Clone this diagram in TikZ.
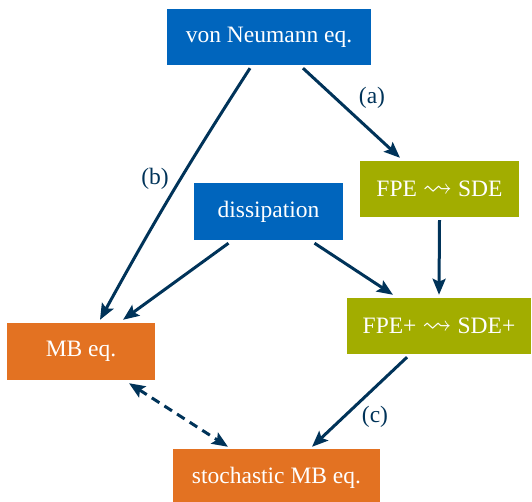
\documentclass[tikz,border=0pt]{standalone}
\usepackage{amssymb}
\usepackage{graphicx}
\usepackage{fontspec}
\setmainfont{Liberation Serif}
\usetikzlibrary{arrows.meta}
\definecolor{tumblue}{HTML}{0065BD}
\definecolor{tumgreen}{HTML}{A2AD00}
\definecolor{tumorange}{HTML}{E37222}
\definecolor{tumdark}{HTML}{003359}
\newcommand{\squig}{\raisebox{0.5pt}{\scalebox{1.25}{$\rightsquigarrow$}}}
\tikzset{
  box/.style={rectangle, inner sep=0pt, text=white, font=\fontsize{23.5}{28}\selectfont, minimum height=56pt},
  bluebox/.style={box, fill=tumblue},
  greenbox/.style={box, fill=tumgreen},
  orangebox/.style={box, fill=tumorange},
  conn/.style={draw=tumdark, line width=3pt, -{Stealth[length=16pt,width=13pt,inset=3pt]}},
  dconn/.style={conn, {Stealth[length=16pt,width=13pt,inset=3pt]}-{Stealth[length=16pt,width=13pt,inset=3pt]}, dash pattern=on 9pt off 6pt},
  lbl/.style={text=tumdark, inner sep=0pt, font=\fontsize{23.5}{28}\selectfont}
}
\begin{document}
\begin{tikzpicture}[x=1pt,y=-1pt]
\useasboundingbox (0,0) rectangle (532,502);
\node[bluebox, minimum width=204pt] (vn) at (269,37) {von Neumann eq.};
\node[greenbox, minimum width=159pt] (fpe) at (439.5,189) {FPE \squig{} SDE};
\node[bluebox, minimum width=149pt, minimum height=57pt] (diss) at (268.5,211.5) {dissipation};
\node[greenbox, minimum width=184pt] (fpep) at (439,326) {FPE+ \squig{} SDE+};
\node[orangebox, minimum width=148pt, minimum height=57pt] (mb) at (81,351.5) {MB eq.};
\node[orangebox, minimum width=207pt, minimum height=57pt] (smb) at (276.5,477.5) {stochastic MB eq.};
\node[lbl] (la) at (372,98) {(a)};
\node[lbl] (lb) at (155,179) {(b)};
\node[lbl] (lc) at (375,417) {(c)};
\draw[conn] ([xshift=34pt,yshift=-3pt]vn.south) -- ([xshift=-39.5pt,yshift=3pt]fpe.north);
\draw[conn] ([xshift=-19pt,yshift=-3pt]vn.south) to[bend right=2] ([xshift=19pt,yshift=3pt]mb.north);
\draw[conn] ([xshift=-40pt,yshift=-3pt]diss.south) -- ([xshift=42pt,yshift=3pt]mb.north);
\draw[conn] ([xshift=46pt,yshift=-3pt]diss.south) -- ([xshift=-46pt,yshift=3pt]fpep.north);
\draw[conn] ([yshift=-3pt]fpe.south) -- ([yshift=3pt]fpep.south |- fpep.north);
\draw[conn] ([xshift=-32pt,yshift=-3pt]fpep.south) -- ([xshift=35.5pt,yshift=2pt]smb.north);
\draw[dconn] ([xshift=48pt,yshift=-3pt]mb.south) -- ([xshift=-48.5pt,yshift=2pt]smb.north);
\end{tikzpicture}
\end{document}
